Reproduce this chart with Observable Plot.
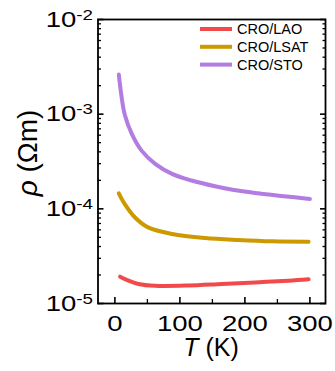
<!DOCTYPE html>
<html>
<head>
<meta charset="utf-8">
<script src="https://cdn.jsdelivr.net/npm/d3@7"></script>
<script src="https://cdn.jsdelivr.net/npm/@observablehq/plot@0.6"></script>
<style>
  body { margin: 0; background: #fff; }
  #chart svg { display: block; }
</style>
</head>
<body>
<div id="chart"></div>
<script>
// Resistivity ρ (Ω·m) versus temperature T (K) for CaRuO3 films on three substrates
const seriesNames = ["CRO/LAO", "CRO/LSAT", "CRO/STO"];
const seriesColors = ["#f24a4a", "#cc9a00", "#b37ce0"];

const tLAO = [8, 21, 36, 62, 113, 165, 216, 267, 298];
const rhoLAO = [1.92e-5, 1.74e-5, 1.61e-5, 1.54e-5, 1.55e-5, 1.61e-5, 1.67e-5, 1.74e-5, 1.80e-5];

const tLSAT = [6, 15, 31, 51, 88, 139, 190, 242, 298];
const rhoLSAT = [1.46e-4, 1.13e-4, 8.1e-5, 6.37e-5, 5.43e-5, 4.92e-5, 4.69e-5, 4.54e-5, 4.50e-5];

const tSTO = [6, 10, 15, 26, 41, 62, 88, 118, 154, 183, 220, 260, 300];
const rhoSTO = [2.62e-3, 1.57e-3, 1.0e-3, 6.19e-4, 4.12e-4, 2.99e-4, 2.34e-4, 1.99e-4, 1.73e-4, 1.58e-4, 1.46e-4, 1.36e-4, 1.27e-4];

// Tick values
const xMajor = [0, 100, 200, 300];
const xMinor = [50, 150, 250];
const yMajor = [1e-5, 1e-4, 1e-3, 1e-2];
const yMinor = [-5, -4, -3].flatMap(e => [2, 3, 4, 5, 6, 7, 8, 9].map(m => m * Math.pow(10, e)));

const series = [[tLAO, rhoLAO], [tLSAT, rhoLSAT], [tSTO, rhoSTO]];
const rows = series.flatMap(([ts, rs], k) => ts.map((T, i) => ({series: seriesNames[k], T, rho: rs[i]})));

// Tick marks drawn on the inside of the frame
const inTicks = (axis, values, anchor, size, width) =>
  axis(values, {anchor, tickSize: -size, fill: "none", strokeWidth: width, label: null});

const chart = Plot.plot({
  width: 335,
  height: 371,
  marginLeft: 97.5,
  marginRight: 10,
  marginTop: 19,
  marginBottom: 68,
  style: {fontFamily: "'Liberation Sans', Arial, sans-serif", background: "#fff", color: "#000"},
  x: {domain: [-26, 324]},
  y: {type: "log", domain: [1e-5, 1e-2]},
  color: {domain: seriesNames, range: seriesColors},
  marks: [
    Plot.line(rows, {x: "T", y: "rho", z: "series", stroke: "series", strokeWidth: 4, curve: "catmull-rom"}),
    inTicks(Plot.axisY, yMinor, "left", 3.5, 1.3),
    inTicks(Plot.axisY, yMajor, "left", 6, 1.6),
    inTicks(Plot.axisY, yMinor, "right", 3.5, 1.3),
    inTicks(Plot.axisY, yMajor, "right", 6, 1.6),
    inTicks(Plot.axisX, xMinor, "bottom", 4, 1.3),
    inTicks(Plot.axisX, xMajor, "bottom", 6, 1.6),
    Plot.axisY(yMajor, {anchor: "left", tickSize: 0, tickPadding: 5, fontSize: 22, label: null,
      tickFormat: d => String(Math.round(Math.log10(d)))}),
    Plot.axisX(xMajor, {anchor: "bottom", tickSize: 0, tickPadding: 12, fontSize: 22, label: null}),
    Plot.frame({strokeWidth: 1.8})
  ]
});

const svg = d3.select(chart);

// Wide tick-label lettering
svg.selectAll('g[aria-label="x-axis tick label"] text')
  .attr("transform", function() { return this.getAttribute("transform") + " scale(1.25,1)"; });

// Power-of-ten labels: "10" with a raised exponent
svg.selectAll('g[aria-label="y-axis tick label"] text').each(function() {
  const exponent = this.textContent;
  const t = d3.select(this);
  t.text(null);
  t.attr("transform", this.getAttribute("transform") + " scale(1.25,1)");
  t.append("tspan").text("10");
  t.append("tspan").attr("font-size", 15).attr("dy", "-0.45em").text(exponent);
});

// Axis titles
const yTitle = svg.append("text")
  .attr("transform", "translate(37,153) rotate(-90)")
  .attr("text-anchor", "middle")
  .attr("font-size", 28)
  .attr("fill", "#000");
yTitle.append("tspan").attr("font-style", "italic").text("ρ");
yTitle.append("tspan").text(" (Ωm)");

const xTitle = svg.append("text")
  .attr("x", 211)
  .attr("y", 356)
  .attr("text-anchor", "middle")
  .attr("font-size", 25)
  .attr("fill", "#000");
xTitle.append("tspan").attr("font-style", "italic").text("T");
xTitle.append("tspan").text(" (K)");

// Legend
const legend = svg.append("g").attr("transform", "translate(200,29)");
seriesNames.forEach((name, i) => {
  const row = legend.append("g").attr("transform", `translate(0,${i * 17.8})`);
  row.append("line").attr("x1", 0).attr("x2", 32).attr("stroke", seriesColors[i]).attr("stroke-width", 4);
  row.append("text")
    .attr("x", 37)
    .attr("dy", "0.35em")
    .attr("text-anchor", "start")
    .attr("font-size", 14.5)
    .attr("fill", "#000")
    .text(name);
});

document.getElementById("chart").appendChild(chart);
</script>
</body>
</html>
